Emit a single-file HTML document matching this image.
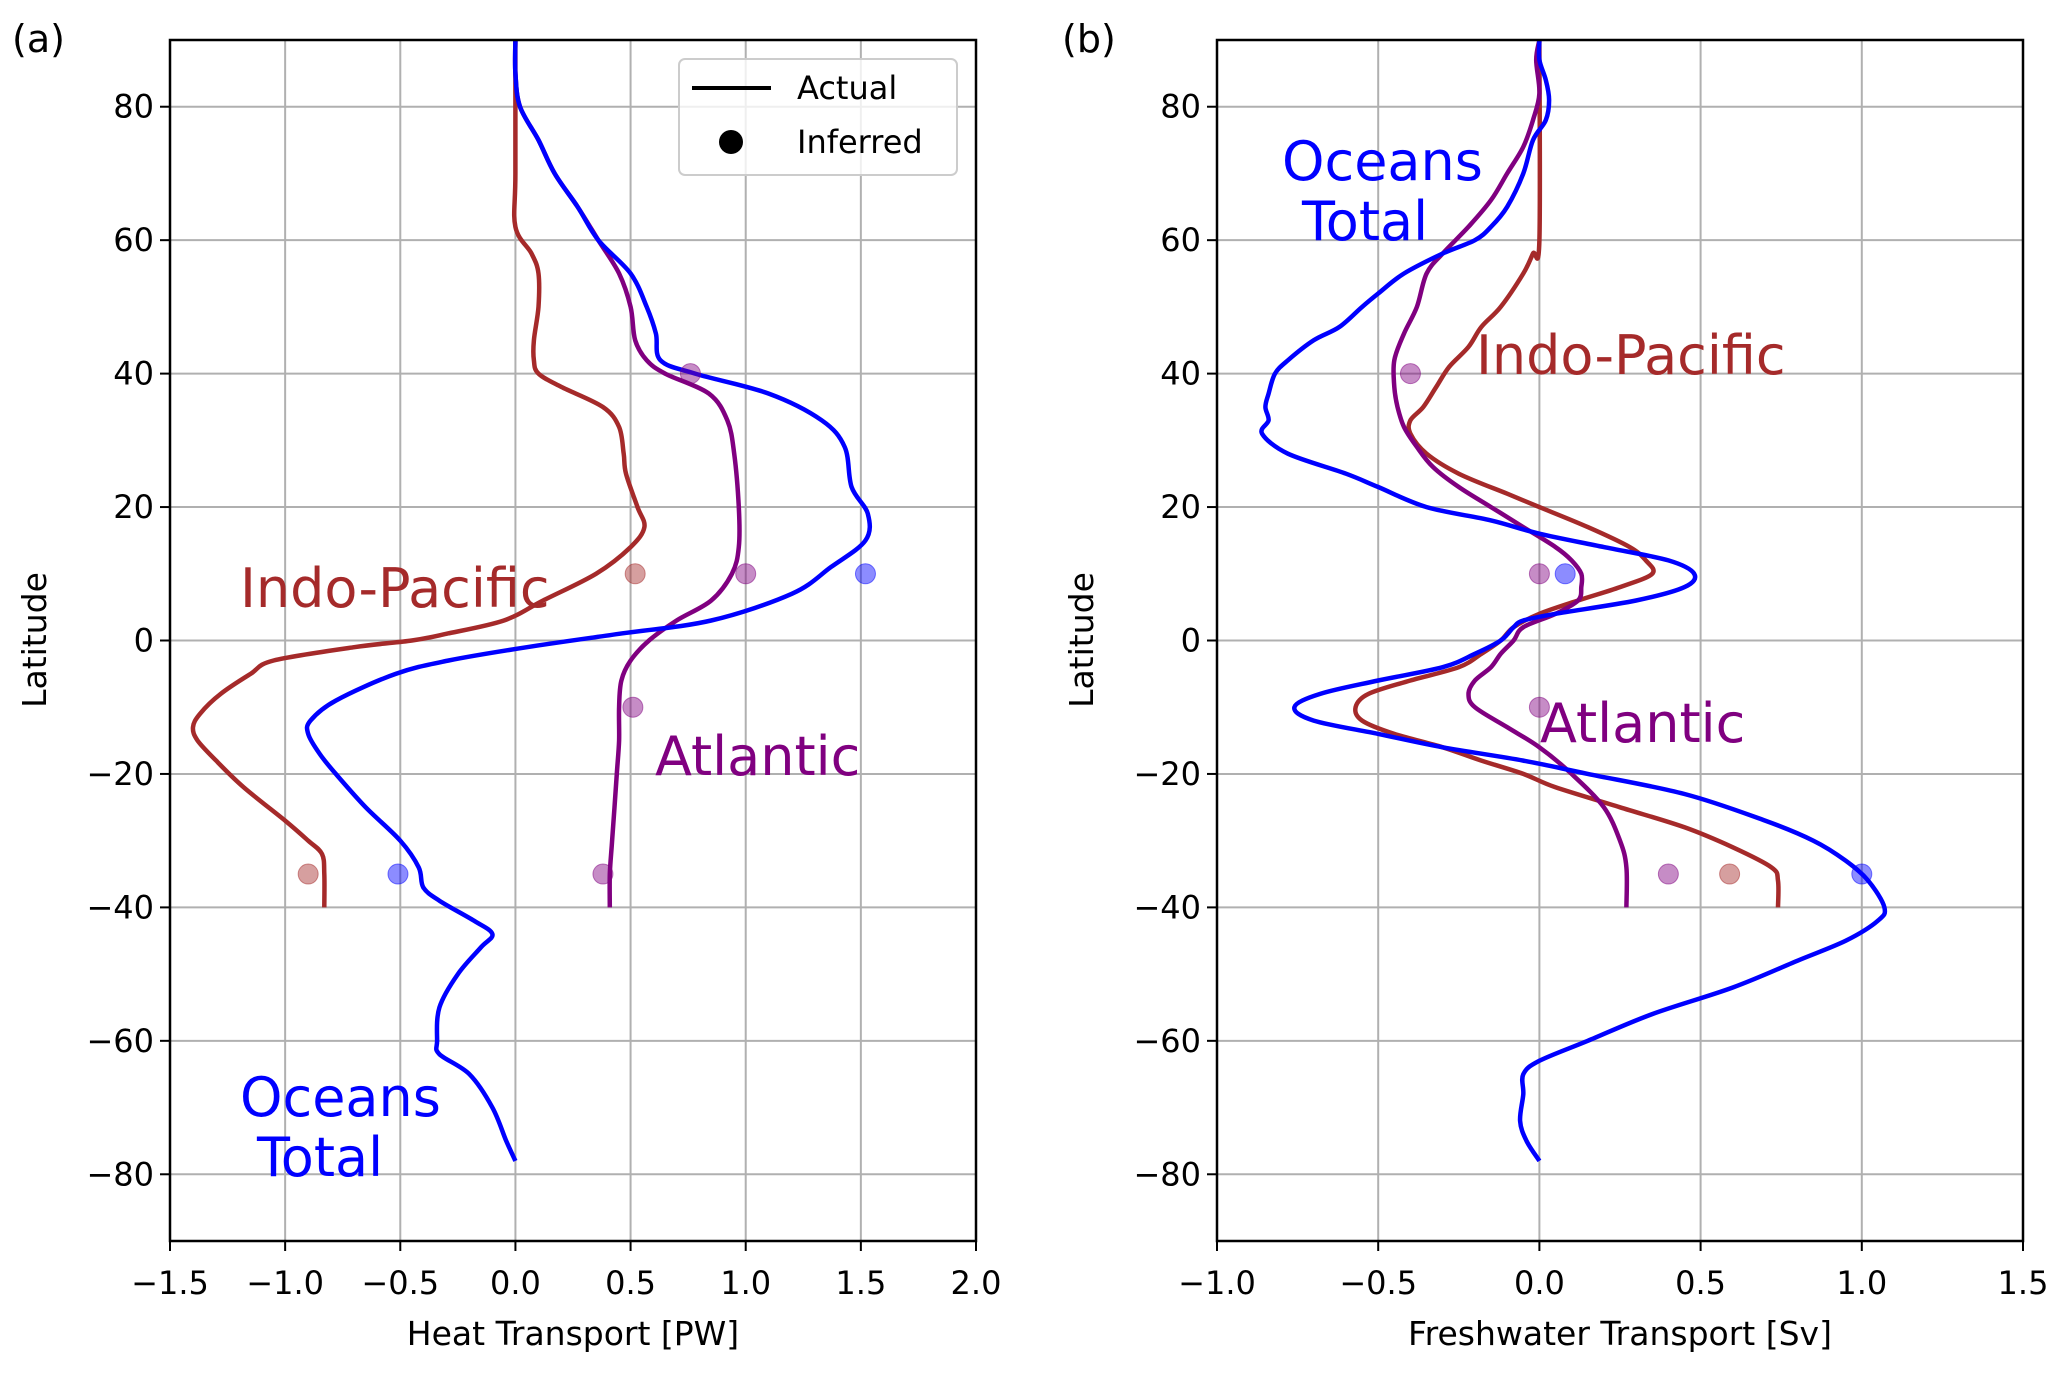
<!DOCTYPE html>
<html><head><meta charset="utf-8"><style>
body{margin:0;background:#fff}
svg text{font-family:"DejaVu Sans","Liberation Sans",sans-serif}
</style></head><body>
<svg id="s" width="2067" height="1372" xmlns="http://www.w3.org/2000/svg"></svg>
<script>
const latTicks=[-80,-60,-40,-20,0,20,40,60,80];
const aTicks=[-1.5,-1.0,-0.5,0.0,0.5,1.0,1.5,2.0];
const bTicks=[-1.0,-0.5,0.0,0.5,1.0,1.5];
const aBlueLat=[90,85,80,75,70,65,60,55,50,46,42,40,37,33,29,23,19,15,11,7,3,1,-1,-3,-5,-9,-12,-14,-17,-20,-25,-30,-34,-37,-39,-42,-44,-46,-50,-55,-60,-62,-65,-70,-75,-78];
const aBlueVal=[0,0,0.02,0.1,0.17,0.27,0.36,0.5,0.57,0.61,0.63,0.78,1.1,1.33,1.43,1.46,1.53,1.52,1.37,1.2,0.85,0.45,0.05,-0.29,-0.52,-0.78,-0.89,-0.9,-0.85,-0.78,-0.65,-0.5,-0.42,-0.4,-0.33,-0.18,-0.1,-0.15,-0.25,-0.33,-0.34,-0.33,-0.2,-0.1,-0.04,0];
const aRedLat=[90,70,62,58,55,50,45,42,40,38,35,32,28,25,20,17,14,10,6,3,1,0,-1,-3,-5,-8,-11,-13,-15,-18,-22,-27,-30,-32,-35,-40];
const aRedVal=[0,0,0,0.07,0.1,0.1,0.08,0.08,0.1,0.2,0.38,0.45,0.47,0.48,0.53,0.56,0.5,0.35,0.12,-0.05,-0.3,-0.45,-0.7,-1.05,-1.15,-1.28,-1.37,-1.4,-1.38,-1.3,-1.18,-1.0,-0.9,-0.84,-0.83,-0.83];
const aPurLat=[90,85,80,75,70,65,60,55,50,45,42,40,37,33,28,20,14,10,6,3,0,-3,-6,-10,-15,-20,-25,-30,-35,-40];
const aPurVal=[0,0,0.02,0.1,0.17,0.27,0.36,0.45,0.5,0.52,0.57,0.65,0.84,0.92,0.95,0.97,0.97,0.94,0.85,0.7,0.58,0.5,0.46,0.45,0.45,0.44,0.43,0.42,0.41,0.41];
const bBlueLat=[90,87,84,81,78,75,70,65,62,60,58,55,52,50,47,45,42,40,37,35,33,31,28,25,23,20,18,16,14,12,10,8,6,4,3,2,0,-2,-4,-6,-8,-10,-12,-14,-16,-18,-20,-23,-27,-30,-33,-36,-40,-42,-45,-48,-52,-56,-60,-63,-65,-68,-72,-75,-78];
const bBlueVal=[0,0,0.02,0.03,0.02,-0.02,-0.05,-0.1,-0.15,-0.2,-0.3,-0.42,-0.5,-0.55,-0.62,-0.7,-0.78,-0.82,-0.84,-0.85,-0.84,-0.86,-0.78,-0.6,-0.5,-0.35,-0.15,0,0.2,0.4,0.48,0.45,0.3,0.05,-0.05,-0.08,-0.12,-0.2,-0.3,-0.5,-0.68,-0.76,-0.7,-0.5,-0.3,-0.05,0.15,0.45,0.7,0.85,0.95,1.02,1.07,1.05,0.95,0.8,0.6,0.35,0.15,0,-0.05,-0.05,-0.06,-0.04,0];
const bRedLat=[90,60,58,55,50,47,44,41,38,35,33,31,28,25,22,20,17,14,12,10,8,6,4,2,0,-2,-4,-6,-8,-10,-12,-14,-16,-18,-20,-22,-25,-28,-31,-34,-36,-40];
const bRedVal=[0,0,-0.02,-0.05,-0.12,-0.18,-0.22,-0.28,-0.32,-0.36,-0.4,-0.4,-0.35,-0.25,-0.1,0,0.15,0.28,0.33,0.35,0.25,0.12,0,-0.08,-0.12,-0.18,-0.25,-0.4,-0.53,-0.57,-0.55,-0.45,-0.3,-0.18,-0.05,0.05,0.25,0.45,0.6,0.72,0.74,0.74];
const bPurLat=[90,87,82,78,74,70,66,62,58,55,50,46,42,38,35,32,29,26,23,20,17,14,12,10,8,6,4,2,0,-2,-4,-6,-8,-10,-13,-16,-20,-25,-30,-34,-40];
const bPurVal=[0,-0.01,0,-0.02,-0.05,-0.1,-0.15,-0.22,-0.3,-0.35,-0.38,-0.42,-0.45,-0.45,-0.44,-0.42,-0.38,-0.33,-0.25,-0.15,-0.05,0.05,0.1,0.13,0.13,0.12,0.05,-0.05,-0.08,-0.12,-0.15,-0.2,-0.22,-0.2,-0.1,0,0.1,0.2,0.25,0.27,0.27];
const aMarkX=[0.52,-0.9,1.52,-0.51,0.76,1.0,0.51,0.38];
const aMarkY=[10,-35,10,-35,40,10,-10,-35];
const aMarkC=["r","r","b","b","p","p","p","p"];
const bMarkX=[-0.4,0.0,0.08,0.0,0.4,0.59,1.0];
const bMarkY=[40,10,10,-10,-35,-35,-35];
const bMarkC=["p","p","b","p","p","r","b"];
const COL={b:"#0000ff",r:"#a52a2a",p:"#800080"};
const S=document.getElementById('s');const NS="http://www.w3.org/2000/svg";
function mk(t,a,p){const e=document.createElementNS(NS,t);for(const k in a)e.setAttribute(k,a[k]);(p||S).appendChild(e);return e;}
const T=40,B=1241;
function Y(l){return T+(90-l)/180*(B-T);}
function smooth(P){let d='M'+P[0][0].toFixed(1)+','+P[0][1].toFixed(1);
  for(let i=0;i<P.length-1;i++){const p0=P[Math.max(i-1,0)],p1=P[i],p2=P[i+1],p3=P[Math.min(i+2,P.length-1)];
    const c1=[p1[0]+(p2[0]-p0[0])/6,p1[1]+(p2[1]-p0[1])/6],c2=[p2[0]-(p3[0]-p1[0])/6,p2[1]-(p3[1]-p1[1])/6];
    d+=' C'+c1[0].toFixed(1)+','+c1[1].toFixed(1)+' '+c2[0].toFixed(1)+','+c2[1].toFixed(1)+' '+p2[0].toFixed(1)+','+p2[1].toFixed(1);}
  return d;}
function panel(id,L,R,x0,x1,ticks,xlabel,series,mx,my,mc){
  const X=v=>L+(v-x0)/(x1-x0)*(R-L);
  const g=mk('g',{});
  latTicks.forEach(t=>{const l=mk('line',{x1:L,x2:R,y1:Y(t),y2:Y(t),stroke:'#b0b0b0','stroke-width':2},g);
    mk('line',{x1:L-10,x2:L,y1:Y(t),y2:Y(t),stroke:'#000','stroke-width':2},g);
    const tx=mk('text',{x:L-16,y:Y(t)+11,'text-anchor':'end','font-size':32},g);tx.textContent=(t<0?'\u2212'+(-t):t);});
  ticks.forEach(t=>{const l=mk('line',{x1:X(t),x2:X(t),y1:T,y2:B,stroke:'#b0b0b0','stroke-width':2},g);
    mk('line',{x1:X(t),x2:X(t),y1:B,y2:B+10,stroke:'#000','stroke-width':2},g);
    const tx=mk('text',{x:X(t),y:B+53,'text-anchor':'middle','font-size':32},g);tx.textContent=(t<0?'\u2212'+(-t).toFixed(1):t.toFixed(1));});
  series.forEach(s=>{const P=s.lat.map((l,i)=>[X(s.val[i]),Y(l)]);
    const p=mk('path',{d:smooth(P),fill:'none',stroke:COL[s.c],'stroke-width':4.5,'stroke-linejoin':'round'},g);});
  mx.forEach((v,i)=>{const c=mk('circle',{cx:X(v),cy:Y(my[i]),r:10,fill:COL[mc[i]],'fill-opacity':0.45,stroke:COL[mc[i]],'stroke-opacity':0.5,'stroke-width':1},g);});
  const fr=mk('rect',{x:L,y:T,width:R-L,height:B-T,fill:'none',stroke:'#000','stroke-width':2.5},g);
  const xl=mk('text',{x:(L+R)/2,y:1345,'text-anchor':'middle','font-size':33},g);xl.textContent=xlabel;
  const yx=L-124;const yl=mk('text',{x:yx,y:640,'text-anchor':'middle','font-size':33,transform:'rotate(-90 '+yx+' 640)'},g);yl.textContent='Latitude';
  return X;
}
panel('a',170,976,-1.5,2.0,aTicks,'Heat Transport [PW]',[{lat:aRedLat,val:aRedVal,c:'r',n:'indo-pacific-line'},{lat:aPurLat,val:aPurVal,c:'p',n:'atlantic-line'},{lat:aBlueLat,val:aBlueVal,c:'b',n:'oceans-total-line'}],aMarkX,aMarkY,aMarkC);
panel('b',1217,2023,-1.0,1.5,bTicks,'Freshwater Transport [Sv]',[{lat:bRedLat,val:bRedVal,c:'r',n:'indo-pacific-line'},{lat:bPurLat,val:bPurVal,c:'p',n:'atlantic-line'},{lat:bBlueLat,val:bBlueVal,c:'b',n:'oceans-total-line'}],bMarkX,bMarkY,bMarkC);
function lab(x,y,t,c,fs,n){const e=mk('text',{x:x,y:y,fill:c,'font-size':fs});e.textContent=t;}
lab(12,52,'(a)','#000',38,'panel-a-label');lab(1062,52,'(b)','#000',38,'panel-b-label');
lab(240,607,'Indo-Pacific','#a52a2a',54,'indo-pacific-label');
lab(655,775,'Atlantic','#800080',54,'atlantic-label');
lab(240,1116,'Oceans','#0000ff',54,'oceans-label');lab(257,1176,'Total','#0000ff',54,'total-label');
lab(1282,180,'Oceans','#0000ff',54,'oceans-label-b');lab(1302,240,'Total','#0000ff',54,'total-label-b');
lab(1476,374,'Indo-Pacific','#a52a2a',54,'indo-pacific-label-b');
lab(1540,742,'Atlantic','#800080',54,'atlantic-label-b');
const lg=mk('g',{});
mk('rect',{x:679,y:59,width:278,height:116,rx:6,fill:'#fff','fill-opacity':0.8,stroke:'#ccc','stroke-width':2},lg);
mk('line',{x1:692,x2:771,y1:88,y2:88,stroke:'#000','stroke-width':4},lg);
mk('circle',{cx:731,cy:142,r:12,fill:'#000'},lg);
const t1=mk('text',{x:797,y:99,'font-size':32},lg);t1.textContent='Actual';
const t2=mk('text',{x:797,y:153,'font-size':32},lg);t2.textContent='Inferred';
</script>
</body></html>
